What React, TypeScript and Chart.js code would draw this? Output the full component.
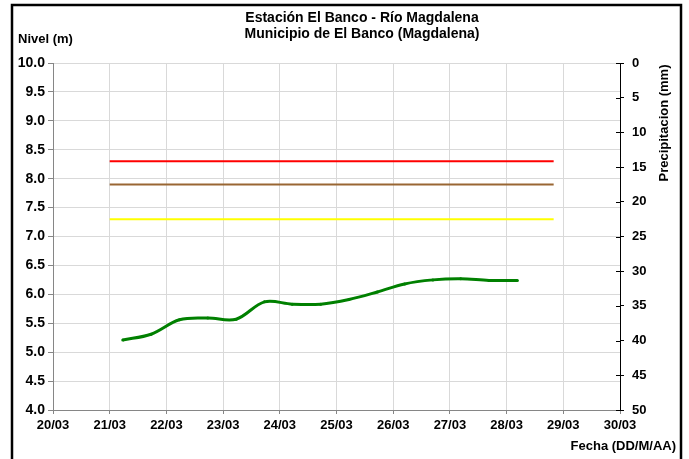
import React, { useEffect, useRef } from "react";
import { Chart, registerables } from "chart.js";

Chart.register(...registerables);

const TITLE_LINES = ["Estación El Banco - Río Magdalena", "Municipio de El Banco (Magdalena)"];
const Y_LEFT_TITLE = "Nivel (m)";
const Y_RIGHT_TITLE = "Precipitacion (mm)";
const X_TITLE = "Fecha (DD/M/AA)";

// Level readings: day of March (fractional) and level in metres
const levelDays = [21.23, 21.73, 22.23, 22.73, 23.23, 23.73, 24.22, 24.72, 25.22, 25.72, 26.2, 26.7, 27.19, 27.69, 28.19];
const levelValues = [5.21, 5.31, 5.56, 5.59, 5.57, 5.87, 5.83, 5.83, 5.91, 6.04, 6.18, 6.25, 6.27, 6.24, 6.24];

// Alert thresholds (m), drawn between these days
const thresholdDays = [21.0, 28.83];
const redLevel = 8.3;
const orangeLevel = 7.9;
const yellowLevel = 7.3;

// Axes
const dayTicks = [20, 21, 22, 23, 24, 25, 26, 27, 28, 29, 30];
const monthLabel = "03";
const precipTicks = [0, 5, 10, 15, 20, 25, 30, 35, 40, 45, 50];

const FONT = "'Liberation Sans', Arial, sans-serif";

export default function App() {
  const ref = useRef<HTMLCanvasElement | null>(null);

  useEffect(() => {
    const canvas = ref.current!;
    const extras = {
      id: "extras",
      afterDraw(chart: any) {
        const ctx = chart.ctx as CanvasRenderingContext2D;
        ctx.save();
        // frame
        ctx.strokeStyle = "#000";
        ctx.lineWidth = 2.5;
        ctx.strokeRect(12, 5, 669, 480);
        // right axis inner tick halves
        const y2 = chart.scales.y2;
        ctx.lineWidth = 1;
        ctx.strokeStyle = "#000";
        const ax = chart.chartArea.right;
        precipTicks.forEach((v) => {
          const py = Math.round(y2.getPixelForValue(v)) + 0.5;
          ctx.beginPath();
          ctx.moveTo(ax - 4, py);
          ctx.lineTo(ax, py);
          ctx.stroke();
        });
        // texts
        ctx.fillStyle = "#000";
        ctx.font = `bold 14px ${FONT}`;
        ctx.textAlign = "center";
        ctx.textBaseline = "middle";
        ctx.fillText(TITLE_LINES[0], 362, 18);
        ctx.fillText(TITLE_LINES[1], 362, 34);
        ctx.font = `bold 13px ${FONT}`;
        ctx.textAlign = "left";
        ctx.fillText(Y_LEFT_TITLE, 18, 39);
        ctx.textAlign = "right";
        ctx.fillText(X_TITLE, 676, 446);
        ctx.save();
        ctx.translate(664, 123);
        ctx.rotate(-Math.PI / 2);
        ctx.textAlign = "center";
        ctx.fillText(Y_RIGHT_TITLE, 0, 0);
        ctx.restore();
        ctx.restore();
      },
    };

    const thresholdSet = (value: number, color: string) => ({
      data: thresholdDays.map((d) => ({ x: d, y: value })),
      borderColor: color,
      backgroundColor: color,
      borderWidth: 2,
      pointRadius: 0,
      yAxisID: "y",
      xAxisID: "x",
    });

    const chart = new Chart(canvas, {
      type: "line",
      data: {
        datasets: [
          thresholdSet(redLevel, "#ff0000"),
          thresholdSet(orangeLevel, "#996633"),
          thresholdSet(yellowLevel, "#ffff00"),
          {
            data: levelDays.map((d, i) => ({ x: d, y: levelValues[i] })),
            borderColor: "#008000",
            backgroundColor: "#008000",
            borderWidth: 3,
            pointRadius: 1.5,
            pointBorderWidth: 0,
            tension: 0.35,
            yAxisID: "y",
            xAxisID: "x",
          },
        ],
      },
      options: {
        responsive: false,
        animation: false,
        devicePixelRatio: 1,
        layout: { padding: { left: 10, right: 20, top: 63, bottom: 20 } },
        plugins: { legend: { display: false }, tooltip: { enabled: false }, title: { display: false } },
        scales: {
          x: {
            type: "linear",
            min: dayTicks[0],
            max: dayTicks[dayTicks.length - 1],
            afterBuildTicks: (s: any) => { s.ticks = dayTicks.map((v) => ({ value: v })); },
            afterFit: (s: any) => { s.height = 29; },
            ticks: {
              callback: (v: any) => `${v}/${monthLabel}`,
              font: { family: FONT, size: 13, weight: "bold" },
              color: "#000",
              maxRotation: 0,
              autoSkip: false,
              padding: 4,
            },
            grid: { color: "#d9d9d9", tickColor: "#868686", tickLength: 4 },
            border: { color: "#868686" },
          },
          y: {
            position: "left",
            min: 4,
            max: 10,
            afterFit: (s: any) => { s.width = 43; },
            ticks: {
              stepSize: 0.5,
              callback: (v: any) => Number(v).toFixed(1),
              font: { family: FONT, size: 14, weight: "bold" },
              color: "#000",
              padding: 3,
            },
            grid: { color: "#d9d9d9", tickColor: "#868686", tickLength: 5 },
            border: { color: "#868686" },
          },
          y2: {
            position: "right",
            min: 0,
            max: 50,
            reverse: true,
            afterFit: (s: any) => { s.width = 49; },
            afterBuildTicks: (s: any) => { s.ticks = precipTicks.map((v) => ({ value: v })); },
            ticks: {
              font: { family: FONT, size: 13, weight: "bold" },
              color: "#000",
              padding: 8,
            },
            grid: { drawOnChartArea: false, color: "#000", tickColor: "#000", tickLength: 4 },
            border: { color: "#000" },
          },
        },
      } as any,
      plugins: [extras],
    });
    return () => chart.destroy();
  }, []);

  return (
    <canvas
      ref={ref}
      width={689}
      height={459}
      style={{ position: "fixed", left: 0, top: 0, display: "block", width: 689, height: 459 }}
    />
  );
}
